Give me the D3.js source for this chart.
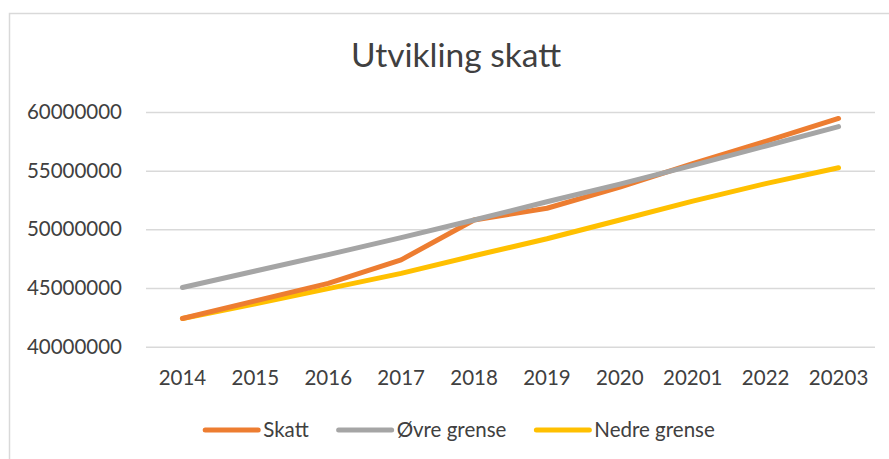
<!DOCTYPE html>
<html>
<head>
<meta charset="utf-8">
<script src="https://cdn.jsdelivr.net/npm/d3@7"></script>
<style>
  body { margin: 0; background: #fff; }
  text { font-family: Lato, "Open Sans", sans-serif; fill: #404040; }
</style>
</head>
<body>
<div id="chart"></div>
<script>
var years = ["2014", "2015", "2016", "2017", "2018", "2019", "2020", "20201", "2022", "20203"];
var skatt = [42400000, 43900000, 45400000, 47400000, 50800000, 51800000, 53600000, 55600000, 57500000, 59450000];
var ovre  = [45050000, 46450000, 47850000, 49300000, 50800000, 52350000, 53850000, 55450000, 57100000, 58750000];
var nedre = [42400000, 43650000, 44950000, 46250000, 47750000, 49200000, 50800000, 52400000, 53900000, 55250000];
var yTicks = [40000000, 45000000, 50000000, 55000000, 60000000];

var series = [
  { name: "Skatt", values: skatt, color: "#ED7D31" },
  { name: "Øvre grense", values: ovre, color: "#A5A5A5" },
  { name: "Nedre grense", values: nedre, color: "#FFC000" }
];

var W = 889, H = 459;
var margin = { top: 112, right: 14, bottom: 112.3, left: 146 };
var width = W - margin.left - margin.right;
var height = H - margin.top - margin.bottom;

var svg = d3.select("#chart").append("svg")
  .attr("width", W)
  .attr("height", H);

// outer chart border
svg.append("rect")
  .attr("x", 9.5).attr("y", 13.5)
  .attr("width", W + 20).attr("height", H + 20)
  .attr("fill", "none")
  .attr("stroke", "#D9D9D9")
  .attr("stroke-width", 1.5);

svg.append("text")
  .attr("x", 456).attr("y", 67)
  .attr("text-anchor", "middle")
  .style("font-size", "33.5px")
  .text("Utvikling skatt");

var g = svg.append("g")
  .attr("transform", "translate(" + margin.left + "," + margin.top + ")");

var x = d3.scaleBand().domain(years).range([0, width]).padding(0);
var y = d3.scaleLinear().domain([40000000, 60000000]).range([height, 0]);

var yAxis = g.append("g")
  .call(d3.axisLeft(y).tickValues(yTicks).tickFormat(d3.format("d"))
    .tickSize(-width).tickPadding(24));
yAxis.select(".domain").remove();
yAxis.selectAll("line").attr("stroke", "#D9D9D9").attr("stroke-width", 1.5);
yAxis.selectAll("text").style("font-size", "20.5px").attr("fill", "#404040")
  .style("font-family", "Lato, sans-serif");

var xAxis = g.append("g")
  .attr("transform", "translate(0," + height + ")")
  .call(d3.axisBottom(x).tickSize(0).tickPadding(23.5));
xAxis.select(".domain").remove();
xAxis.selectAll("text").style("font-size", "20.5px").attr("fill", "#404040")
  .style("font-family", "Lato, sans-serif");

var line = d3.line()
  .x(function(d, i) { return x(years[i]) + x.bandwidth() / 2; })
  .y(function(d) { return y(d); });

// grey drawn over orange like the reference
var drawOrder = [series[2], series[0], series[1]];
g.selectAll(".series")
  .data(drawOrder)
  .enter().append("path")
  .attr("class", "series")
  .attr("d", function(d) { return line(d.values); })
  .attr("fill", "none")
  .attr("stroke", function(d) { return d.color; })
  .attr("stroke-width", 5)
  .attr("stroke-linecap", "round")
  .attr("stroke-linejoin", "round");

// legend
var legend = svg.append("g");
var items = legend.selectAll(".leg")
  .data(series)
  .enter().append("g")
  .attr("class", "leg");

items.append("line")
  .attr("x1", 0).attr("x2", 53)
  .attr("y1", 0).attr("y2", 0)
  .attr("stroke", function(d) { return d.color; })
  .attr("stroke-width", 5)
  .attr("stroke-linecap", "round");

items.append("text")
  .attr("x", 58)
  .attr("dy", "0.35em")
  .style("font-size", "20.5px")
  .text(function(d) { return d.name; });

var pos = 0;
var offsets = [];
items.each(function(d) {
  var tw = d3.select(this).select("text").node().getComputedTextLength();
  offsets.push(pos);
  pos += 58 + tw + 30;
});
var total = pos - 30;
var startX = 460 - total / 2;
items.attr("transform", function(d, i) {
  return "translate(" + (startX + offsets[i]) + ",430)";
});
</script>
</body>
</html>
